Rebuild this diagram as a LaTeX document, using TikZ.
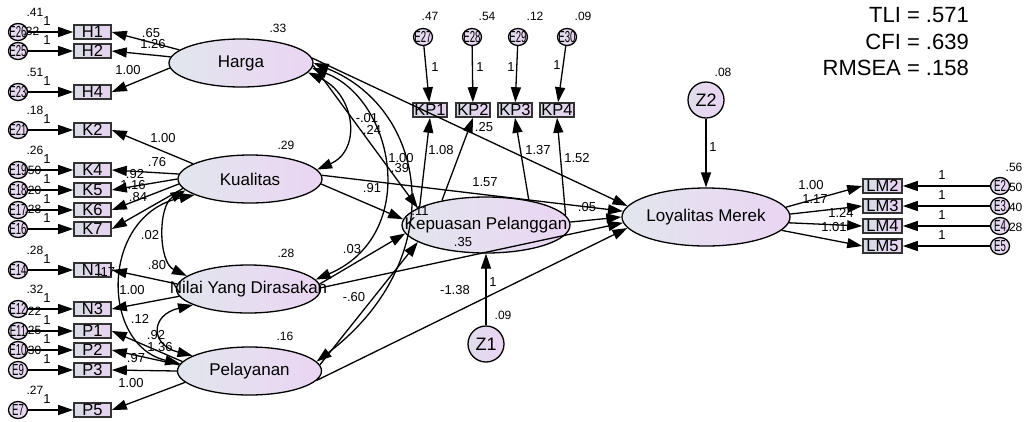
\documentclass[tikz,border=0pt]{standalone}
\usepackage{fontspec}
\setmainfont{Liberation Sans}
\usepackage{graphicx}
\usetikzlibrary{shapes.geometric,arrows.meta}

\definecolor{boxL}{RGB}{216,220,229}
\definecolor{boxR}{RGB}{231,210,241}
\definecolor{latL}{RGB}{226,230,237}
\definecolor{latR}{RGB}{234,213,243}
\definecolor{errL}{RGB}{224,222,235}
\definecolor{errR}{RGB}{234,211,243}

\newcommand{\fsz}[1]{\fontsize{#1}{#1}\selectfont}
\newcommand{\etxt}[1]{\scalebox{0.6}[1]{\fsz{16}#1}}

\begin{document}
\begin{tikzpicture}[x=1pt,y=-1pt,
  ind/.style={draw=black!80, line width=1.6pt, minimum width=37pt, minimum height=14pt,
    inner sep=0pt, left color=boxL, right color=boxR, font=\fsz{16.5}},
  lat/.style={ellipse, draw, line width=1.3pt, minimum width=144pt, minimum height=48pt,
    inner sep=0pt, left color=latL, right color=latR},
  err/.style={ellipse, draw, line width=1.3pt, minimum width=19pt, minimum height=17pt,
    inner sep=0pt, left color=errL, right color=errR},
  dist/.style={circle, draw, line width=1.3pt, minimum size=36pt, inner sep=0pt,
    left color=errL, right color=errR, font=\fsz{18}},
  plab/.style={font=\fsz{13}, inner sep=0pt},
  vlab/.style={font=\fsz{12}, inner sep=0pt},
  reg/.style={line width=1.3pt, -{Triangle[length=15pt,width=10pt]}},
  cov/.style={line width=1.3pt, {Triangle[length=15pt,width=10pt]}-{Triangle[length=15pt,width=10pt]}},
  latname/.style={font=\fsz{17}}
]
\fill[white] (0,0) rectangle (1024,421);
\useasboundingbox (0,0) rectangle (1024,421);

% ---------- latent variables ----------
\node[lat, label={[latname]center:Harga}] (Harga) at (241,63) {};
\node[lat, label={[latname]center:Kualitas}] (Kual) at (250,179) {};
\node[lat, label={[latname]center:Nilai Yang Dirasakan}] (Nilai) at (248.5,289) {};
\node[lat, label={[latname]center:Pelayanan}] (Pel) at (249.5,371) {};
\node[lat, minimum width=168pt, minimum height=56pt,
      label={[latname]center:Kepuasan Pelanggan}] (Kep) at (486,225) {};
\node[lat, minimum width=168pt, minimum height=58pt,
      label={[latname]center:Loyalitas Merek}] (Loy) at (706,217) {};
\node[dist] (Z1) at (486,344) {Z1};
\node[dist] (Z2) at (706,100) {Z2};

% ---------- left indicators and their errors ----------
\foreach \b/\e/\y in {H1/E26/32, H2/E25/51, H4/E23/92, K2/E21/130, K4/E19/170,
    K5/E18/190, K6/E17/210, K7/E16/229, N1/E14/270, N3/E12/309, P1/E11/331,
    P2/E10/350, P3/E9/370, P5/E7/410} {
  \node[ind] (\b) at (92.5,\y) {\b};
  \node[err, label={center:\etxt{\e}}] (\e) at (18,\y) {};
}
% ---------- indicators of Kepuasan Pelanggan ----------
\foreach \b/\e/\x/\ex in {KP1/E27/430/423, KP2/E28/473/472, KP3/E29/515/518, KP4/E30/557/567} {
  \node[ind, minimum width=34pt] (\b) at (\x,110) {\b};
  \node[err, label={center:\etxt{\e}}] (\e) at (\ex,37) {};
}
% ---------- indicators of Loyalitas Merek ----------
\foreach \b/\e/\y in {LM2/E2/186, LM3/E3/206, LM4/E4/226, LM5/E5/246} {
  \node[ind, minimum width=39pt] (\b) at (882.5,\y) {\b};
  \node[err, label={center:\etxt{\e}}] (\e) at (1000,\y) {};
}

% ---------- error variances and fixed weights ----------
\foreach \y/\vx/\v in {32/35/.41, 51/31/.32, 92/35/.51, 130/35/.18, 170/35/.26,
    190/33/.50, 210/33/.20, 229/33/.28, 270/35/.28, 309/35/.32, 331/33/.22,
    350/33/.25, 370/33/.30, 410/35/.27} {
  \node[vlab] at (\vx,\y-20) {\v};
  \node[plab] at (47,\y-11) {1};
}
\foreach \y/\v in {186/.56, 206/.50, 226/.40, 246/.28} {
  \node[vlab] at (1014,\y-19) {\v};
  \node[plab] at (942,\y-11) {1};
}
\foreach \vx/\v/\lx/\ly in {430/.47/435/67, 487/.54/480/67, 535/.12/511/67, 583/.09/557/65} {
  \node[vlab] at (\vx,16) {\v};
  \node[plab] at (\lx,\ly) {1};
}

% ---------- latent variances ----------
\node[vlab] at (278,28) {.33};
\node[vlab] at (286,145) {.29};
\node[vlab] at (286,253) {.28};
\node[vlab] at (285,336) {.16};
\node[vlab] at (503,315) {.09};
\node[vlab] at (723,72) {.08};

% ---------- estimates ----------
\node[plab] at (151,33) {.65};
\node[plab] at (153,44) {1.26};
\node[plab] at (128,70) {1.00};
\node[plab] at (163,138) {1.00};
\node[plab] at (157,162) {.76};
\node[plab] at (135,174) {.92};
\node[plab] at (133,185) {1.16};
\node[plab] at (138,197) {.84};
\node[plab] at (150,235) {.02};
\node[plab] at (157,265) {.80};
\node[plab] at (106,272) {.17};
\node[plab] at (132,290) {1.00};
\node[plab] at (140,319) {.12};
\node[plab] at (156,335) {.92};
\node[plab] at (160,347) {1.36};
\node[plab] at (136,358) {.97};
\node[plab] at (131,383) {1.00};
\node[plab] at (367,118) {-.01};
\node[plab] at (372,130) {.24};
\node[plab] at (401,158) {1.00};
\node[plab] at (400,168) {.39};
\node[plab] at (372,188) {.91};
\node[plab] at (352,249) {.03};
\node[plab] at (354,297) {-.60};
\node[plab] at (484,127) {.25};
\node[plab] at (441,150) {1.08};
\node[plab] at (538,150) {1.37};
\node[plab] at (577,158) {1.52};
\node[plab] at (485,182) {1.57};
\node[plab] at (420,211) {.11};
\node[plab] at (587,207) {.05};
\node[plab] at (463,242) {.35};
\node[plab] at (455,290) {-1.38};
\node[plab] at (493,282) {1};
\node[plab] at (713,147) {1};
\node[plab] at (811,185) {1.00};
\node[plab] at (815,199) {1.17};
\node[plab] at (841,213) {1.24};
\node[plab] at (834,227) {1.01};

% ---------- fit indices ----------
\node[font=\fsz{22}, anchor=east, inner sep=0pt] (tli) at (969,15) {TLI = .571};
\node[font=\fsz{22}, anchor=east, inner sep=0pt] (cfi) at (969,42) {CFI = .639};
\node[font=\fsz{22}, anchor=east, inner sep=0pt] (rmsea) at (969,68) {RMSEA = .158};

% ---------- error arrows ----------
\foreach \b/\e in {H1/E26, H2/E25, H4/E23, K2/E21, K4/E19, K5/E18, K6/E17, K7/E16,
    N1/E14, N3/E12, P1/E11, P2/E10, P3/E9, P5/E7, KP1/E27, KP2/E28, KP3/E29, KP4/E30,
    LM2/E2, LM3/E3, LM4/E4, LM5/E5}
  \draw[reg] (\e) -- (\b);

% ---------- measurement paths ----------
\draw[reg] (Harga.168) -- (H1.east);
\draw[reg] (Harga.175) -- (H2.east);
\draw[reg] (Harga.184) -- (H4.east);
\draw[reg] (Kual.165) -- (K2.east);
\draw[reg] (Kual.176) -- (K4.east);
\draw[reg] (Kual.180) -- (K5.east);
\draw[reg] (Kual.184) -- (K6.east);
\draw[reg] (Kual.188) -- (K7.east);
\draw[reg] (Nilai.176) -- (N1.east);
\draw[reg] (Nilai.186) -- (N3.east);
\draw[reg] (Pel.172) -- (P1.east);
\draw[reg] (Pel.175) -- (P2.east);
\draw[reg] (Pel.180) -- (P3.east);
\draw[reg] (Pel.190) -- (P5.east);
\draw[reg] (Kep.165) -- (KP1.south);
\draw[reg] (Kep.151) -- (KP2.south);
\draw[reg] (Kep.30) -- (KP3.south);
\draw[reg] (Kep.7) -- (KP4.south);
\draw[reg] (Loy.7) -- (LM2.west);
\draw[reg] (Loy.2) -- (LM3.west);
\draw[reg] (Loy.356) -- (LM4.west);
\draw[reg] (Loy.350) -- (LM5.west);

% ---------- structural paths ----------
\draw[reg] (Harga.358) -- (Kep.166);
\draw[reg] (Kual.356) -- (Kep.176);
\draw[reg] (Nilai.4) -- (Kep.186);
\draw[reg] (Pel.5) -- (Kep.194);
\draw[reg] (Harga.4) -- (Loy.172);
\draw[reg] (Kual.3) -- (Loy.176);
\draw[reg] (Kep.2) -- (Loy.180);
\draw[reg] (Nilai.1) -- (Loy.184);
\draw[reg] (Pel.352) -- (Loy.188);
\draw[reg] (Z1) -- (Kep);
\draw[reg] (Z2) -- (Loy);

% ---------- covariances ----------
\draw[cov] (Harga.352) .. controls (355,95) and (362,150) .. (Kual.8);
\draw[cov] (Harga.356) .. controls (395,100) and (420,235) .. (Nilai.8);
\draw[cov] (Harga.0) .. controls (430,110) and (450,260) .. (Pel.8);
\draw[cov] (Kual.190) .. controls (158,205) and (158,262) .. (Nilai.168);
\draw[cov] (Kual.196) .. controls (100,215) and (100,345) .. (Pel.174);
\draw[cov] (Nilai.196) .. controls (150,315) and (150,345) .. (Pel.165);
\end{tikzpicture}
\end{document}
